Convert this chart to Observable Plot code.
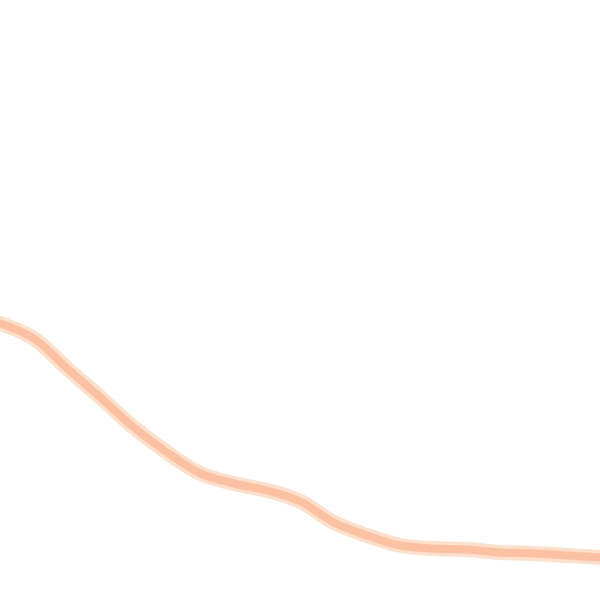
<!DOCTYPE html>
<html>
<head>
<meta charset="utf-8">
<script src="https://cdn.jsdelivr.net/npm/d3@7"></script>
<script src="https://cdn.jsdelivr.net/npm/@observablehq/plot@0.6"></script>
<style>
html, body { margin: 0; padding: 0; background: #fff; overflow: hidden; }
svg { display: block; }
</style>
</head>
<body>
<div id="chart"></div>
<script>
const steps = [0,1,2,3,4,5,6,7,8,9,10,11,12,13,14,15,16,17,18];
const values = [277,262,232,203,173,148,127,117,110,99,78,65,55,52,51,48,47,45,43];

const data = steps.map((s, i) => ({step: s, value: values[i]}));

const chart = Plot.plot({
  width: 600,
  height: 600,
  margin: 0,
  x: {domain: [0, 18], axis: null},
  y: {domain: [0, 600], axis: null},
  marks: [
    Plot.line(data, {x: "step", y: "value", stroke: "#fde0cc", strokeWidth: 15, curve: "catmull-rom"}),
    Plot.line(data, {x: "step", y: "value", stroke: "#fcc0a2", strokeWidth: 8, curve: "catmull-rom"})
  ]
});
document.getElementById("chart").appendChild(chart);
</script>
</body>
</html>
